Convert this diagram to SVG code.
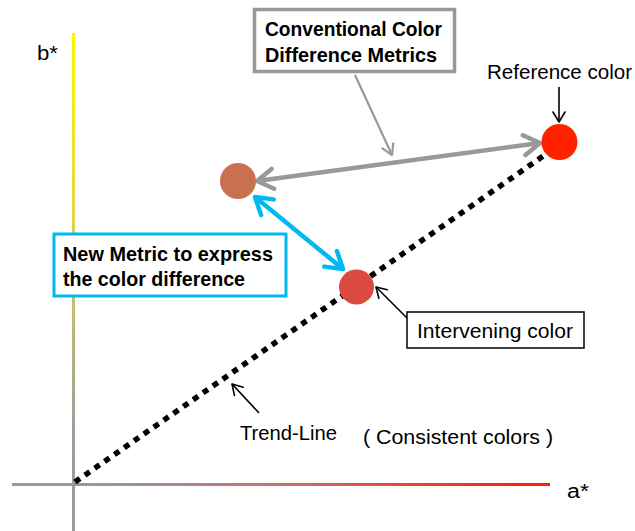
<svg xmlns="http://www.w3.org/2000/svg" width="635" height="531" viewBox="0 0 635 531">
<style>
.t{font-family:"Liberation Sans",Arial,sans-serif;font-size:19.5px;fill:#000}
.b{font-weight:bold;font-size:20.5px}
.thin{fill:none;stroke:#000;stroke-width:1.6}
</style>
<defs>
<linearGradient id="gv" gradientUnits="userSpaceOnUse" x1="0" y1="33" x2="0" y2="531">
<stop offset="0" stop-color="#FFF500"/>
<stop offset="0.35" stop-color="#E2D84A"/>
<stop offset="0.8" stop-color="#9E9E9E"/>
<stop offset="1" stop-color="#999"/>
</linearGradient>
<linearGradient id="gh" gradientUnits="userSpaceOnUse" x1="12" y1="0" x2="550" y2="0">
<stop offset="0" stop-color="#999"/>
<stop offset="0.15" stop-color="#999"/>
<stop offset="0.5" stop-color="#C87070"/>
<stop offset="1" stop-color="#FF1A00"/>
</linearGradient>
<marker id="mg" viewBox="0 0 22 26" refX="19" refY="13" markerWidth="22" markerHeight="26" markerUnits="userSpaceOnUse" orient="auto-start-reverse">
<path d="M3,3 L19,13 L3,23" fill="none" stroke="#999" stroke-width="4.5" stroke-linecap="round" stroke-linejoin="round"/>
</marker>
<marker id="mb" viewBox="0 0 22 26" refX="19" refY="13" markerWidth="22" markerHeight="26" markerUnits="userSpaceOnUse" orient="auto-start-reverse">
<path d="M3,3 L19,13 L3,23" fill="none" stroke="#00B9F1" stroke-width="4.5" stroke-linecap="round" stroke-linejoin="round"/>
</marker>
<marker id="mt" viewBox="0 0 14 16" refX="12" refY="8" markerWidth="14" markerHeight="16" markerUnits="userSpaceOnUse" orient="auto">
<path d="M2,2 L12,8 L2,14" fill="none" stroke="#999" stroke-width="2.2" stroke-linecap="round" stroke-linejoin="round"/>
</marker>
<marker id="mk" viewBox="0 0 12 14" refX="11" refY="7" markerWidth="12" markerHeight="14" markerUnits="userSpaceOnUse" orient="auto">
<path d="M1,1 L11,7 L1,13" fill="none" stroke="#000" stroke-width="1.6" stroke-linecap="round" stroke-linejoin="round"/>
</marker>
</defs>
<rect width="635" height="531" fill="#fff"/>
<g id="axes">
<line x1="73.5" y1="33" x2="73.5" y2="531" stroke="url(#gv)" stroke-width="3"/>
<line x1="12" y1="484.5" x2="550" y2="484.5" stroke="url(#gh)" stroke-width="3"/>
<text class="t" x="37" y="60" textLength="21" lengthAdjust="spacingAndGlyphs">b*</text>
<text class="t" x="567" y="498" textLength="22" lengthAdjust="spacingAndGlyphs">a*</text>
</g>
<g id="connectors">
<line x1="75" y1="482" x2="549" y2="152" stroke="#000" stroke-width="5.5" stroke-dasharray="6 6"/>
<line x1="257" y1="181" x2="540" y2="143" stroke="#999" stroke-width="4.5" marker-start="url(#mg)" marker-end="url(#mg)"/>
<line x1="255" y1="197" x2="343" y2="269" stroke="#00B9F1" stroke-width="4.5" marker-start="url(#mb)" marker-end="url(#mb)"/>
<line x1="355" y1="75" x2="392" y2="155" stroke="#999" stroke-width="2.2" marker-end="url(#mt)"/>
<line class="thin" x1="559" y1="87" x2="559" y2="122" marker-end="url(#mk)"/>
<line class="thin" x1="407" y1="318" x2="376" y2="287" marker-end="url(#mk)"/>
<line class="thin" x1="259" y1="413" x2="232" y2="384" marker-end="url(#mk)"/>
</g>
<g id="reference-color">
<circle cx="559.5" cy="142" r="18" fill="#FF2200"/>
<text class="t" x="487" y="79" textLength="145" lengthAdjust="spacingAndGlyphs">Reference color</text>
</g>
<g id="brown-color">
<circle cx="238" cy="181" r="18" fill="#C87050"/>
</g>
<g id="intervening-color">
<circle cx="356.5" cy="287" r="17.5" fill="#DB4A40"/>
<rect x="407" y="312" width="177" height="36" fill="#fff" stroke="#000" stroke-width="1.5"/>
<text class="t" x="417" y="338" textLength="156" lengthAdjust="spacingAndGlyphs">Intervening color</text>
</g>
<g id="conventional-metrics">
<rect x="254.5" y="9.5" width="200" height="62" fill="#fff" stroke="#999" stroke-width="3.5"/>
<text class="t b" x="265" y="36" textLength="177" lengthAdjust="spacingAndGlyphs">Conventional Color</text>
<text class="t b" x="265" y="62" textLength="172" lengthAdjust="spacingAndGlyphs">Difference Metrics</text>
</g>
<g id="new-metric">
<rect x="54" y="234" width="232" height="62" fill="#fff" stroke="#00B9F1" stroke-width="3"/>
<text class="t b" x="63" y="261" textLength="210" lengthAdjust="spacingAndGlyphs">New Metric to express</text>
<text class="t b" x="63" y="286" textLength="182" lengthAdjust="spacingAndGlyphs">the color difference</text>
</g>
<g id="trend-line">
<text class="t" x="240" y="440" textLength="97" lengthAdjust="spacingAndGlyphs">Trend-Line</text>
<text class="t" x="363" y="444" textLength="190" lengthAdjust="spacingAndGlyphs">( Consistent colors )</text>
</g>
</svg>
